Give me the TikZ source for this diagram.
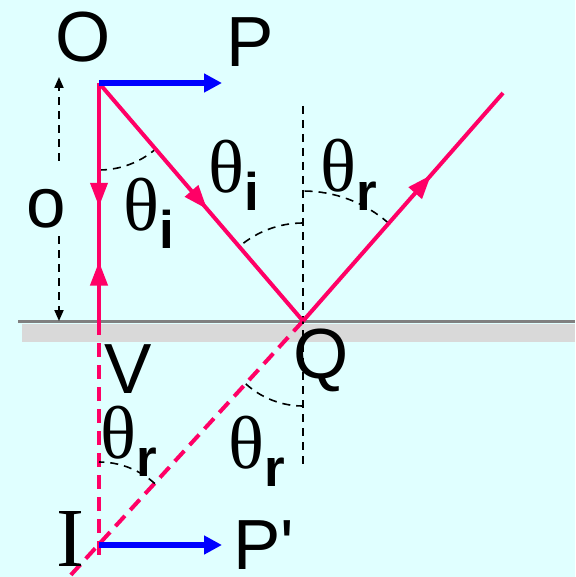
\documentclass[tikz,border=0pt]{standalone}
\usepackage{fontspec}
\setmainfont{Liberation Sans}
\newfontfamily\serifface{Liberation Serif}
\usetikzlibrary{arrows.meta,decorations.markings,angles}
\definecolor{SkyBack}{HTML}{E0FFFF}
\definecolor{RayPink}{HTML}{FF0066}
\definecolor{MirrorGray}{HTML}{808080}
\definecolor{MirrorBand}{HTML}{D9D9D9}

\tikzset{
  ray/.style={RayPink, line width=4pt},
  virtual ray/.style={RayPink, line width=4pt, dash pattern=on 14pt off 8pt},
  guide/.style={black, line width=2pt, dash pattern=on 8pt off 6pt},
  arc guide/.style={draw, black, line width=1.6pt, dash pattern=on 8pt off 6pt},
  object arrow/.style={blue, line width=6pt, -{Triangle[length=18pt,width=18pt]}},
  mid arrow/.style={postaction={decorate}, decoration={markings,
      mark=at position #1 with {\arrow{Triangle[length=24pt,width=17pt]}}}},
  big label/.style={inner sep=0pt, anchor=base, font=\fontsize{71}{80}\selectfont},
  angle label/.style={inner sep=0pt, anchor=base west, font=\fontsize{75}{80}\serifface},
}
\newcommand{\angsub}[1]{θ\raisebox{-18pt}{\rmfamily\bfseries\fontsize{53}{60}\selectfont #1}}

\begin{document}
\begin{tikzpicture}[x=1pt,y=1pt]
  \fill[SkyBack] (0,0) rectangle (575,-577);
  \useasboundingbox (0,0) rectangle (575,-577);
  % mirror
  \fill[MirrorBand] (22,-323.5) rectangle (575,-342);
  \draw[MirrorGray, line width=3pt] (18,-321) -- (575,-321);
  % points
  \coordinate (O) at (99,-83);
  \coordinate (V) at (99,-321);
  \coordinate (Q) at (303,-321);
  \coordinate (I) at (99,-545);
  \coordinate (R) at (503,-93);
  \coordinate (Ntop) at (303,-106);
  \coordinate (Nbot) at (303,-468);
  \coordinate (Vend) at (99,-562);
  \coordinate (Qend) at (69,-577);
  \coordinate (Ptip) at (222,-83);
  \coordinate (Pimgtip) at (222,-545);
  \coordinate (dimtop) at (59,-77);
  \coordinate (dimup) at (59,-161);
  \coordinate (dimdown) at (59,-236);
  \coordinate (dimbot) at (59,-321);
  % virtual rays and normal
  \draw[virtual ray] (V) -- (Vend);
  \draw[virtual ray] (Q) -- (Qend);
  \draw[guide] (Ntop) -- (Nbot);
  % object distance
  \draw[guide, -{Triangle[length=11pt,width=9pt]}] (dimup) -- (dimtop);
  \draw[guide, -{Triangle[length=11pt,width=9pt]}] (dimdown) -- (dimbot);
  % angles
  \pic[arc guide, angle radius=87pt] {angle = V--O--Q};
  \pic[arc guide, angle radius=98pt] {angle = Ntop--Q--O};
  \pic[arc guide, angle radius=130pt] {angle = R--Q--Ntop};
  \pic[arc guide, angle radius=85pt] {angle = I--Q--Nbot};
  \pic[arc guide, angle radius=83pt] {angle = Q--I--V};
  % rays
  \draw[ray, mid arrow=0.53] (O) -- (Q);
  \draw[ray, mid arrow=0.64] (Q) -- (R);
  \draw[ray, postaction={decorate}, decoration={markings,
      mark=at position 0.52 with {\arrow{Triangle[length=24pt,width=17pt]}},
      mark=at position 0.75 with {\arrowreversed{Triangle[length=24pt,width=17pt]}}}]
    (O) -- (V);
  % object and image
  \draw[object arrow] (O) -- (Ptip);
  \draw[object arrow] (I) -- (Pimgtip);
  % labels
  \node[big label] (Olab) at (83,-62) {O};
  \node[big label] (Plab) at (250,-67) {P};
  \node[big label] (olab) at (46,-227) {o};
  \node[big label] (Qlab) at (321,-378) {Q};
  \node[big label] (Vlab) at (128,-393) {V};
  \node[big label] (Pimglab) at (264,-569) {P\textquotesingle};
  \node[inner sep=0pt, anchor=base, font=\fontsize{84}{90}\serifface] (Ilab) at (70,-566) {I};
  \node[angle label] (thi1) at (123,-230) {\angsub{i}};
  \node[angle label] (thi2) at (208,-193) {\angsub{i}};
  \node[angle label] (thr1) at (320,-192) {\angsub{r}};
  \node[angle label] (thr2) at (100,-458) {\angsub{r}};
  \node[angle label] (thr3) at (228,-468) {\angsub{r}};
\end{tikzpicture}
\end{document}
